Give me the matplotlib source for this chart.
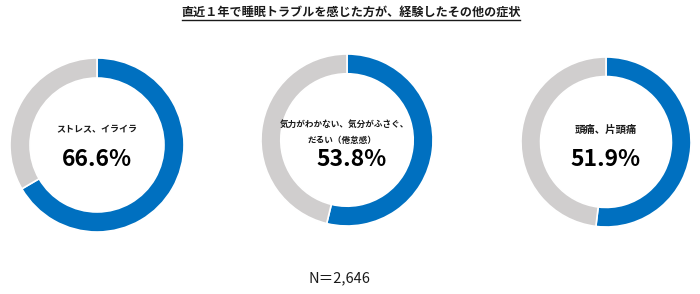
import matplotlib
matplotlib.use("Agg")
import matplotlib.pyplot as plt

title = "直近１年で睡眠トラブルを感じた方が、経験したその他の症状"
labels = ["ストレス、イライラ", "気力がわかない、気分がふさぐ、\nだるい（倦怠感）", "頭痛、片頭痛"]
values = [66.6, 53.8, 51.9]
n_text = "N＝2,646"

BLUE = "#0070C0"
GRAY = "#D0CECE"

plt.rcParams['font.family'] = ['Noto Sans CJK JP', 'DejaVu Sans']

fig = plt.figure(figsize=(7.0, 2.94), dpi=100)
ax = fig.add_axes([0, 0, 1, 1])
ax.axis('off')

H = 294
centers = [(97, 145), (347, 140), (606, 142)]
radii = [87, 86, 85]
label_fs = [6.5, 6.2, 7.5]

for i, (v, lab) in enumerate(zip(values, labels)):
    cx, cy = centers[i]
    r = radii[i]
    ax.pie([v, 100 - v], colors=[BLUE, GRAY], startangle=90, counterclock=False,
           center=(cx, H - cy), radius=r,
           wedgeprops=dict(width=r * 0.23, edgecolor='white', linewidth=1.2))
    if i == 1:
        line1, line2 = lab.split("\n")
        ax.text(cx - 3, H - 124, line1, ha='center', va='center',
                fontsize=label_fs[i], fontweight='bold', color='#1a1a1a')
        ax.text(cx - 5, H - 140, line2, ha='center', va='center',
                fontsize=label_fs[i], fontweight='bold', color='#1a1a1a')
        ax.text(cx + 5, H - 160, f"{v:.1f}%", ha='center', va='center',
                fontsize=16.5, fontweight='bold', color='black')
    else:
        ax.text(cx, H - 130, lab, ha='center', va='center',
                fontsize=label_fs[i], fontweight='bold', color='#1a1a1a')
        ax.text(cx, H - 160, f"{v:.1f}%", ha='center', va='center',
                fontsize=16.5, fontweight='bold', color='black')

ax.set_xlim(0, 700)
ax.set_ylim(0, 294)
ax.set_aspect('auto')

ax.text(351, H - 12, title, ha='center', va='center', fontsize=8.7,
        fontweight='bold', color='#1a1a1a')
ax.plot([182, 520], [H - 19.5, H - 19.5], color='#1a1a1a', linewidth=1.0)

ax.text(339, H - 278, n_text, ha='center', va='center', fontsize=10.5, color='#1a1a1a')

fig.savefig("out.png", dpi=100)
